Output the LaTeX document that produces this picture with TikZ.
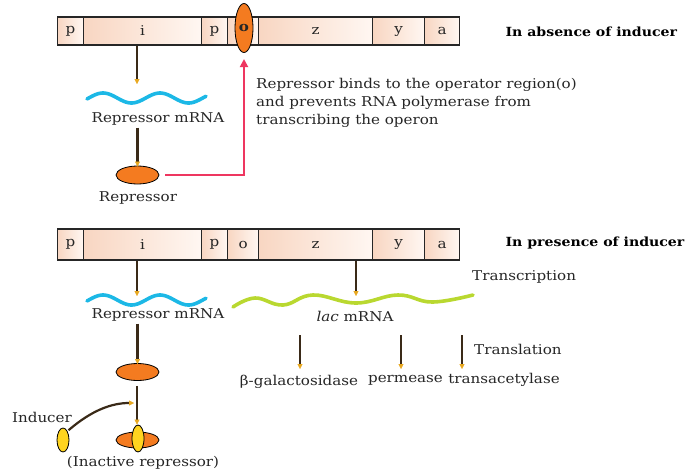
\documentclass[tikz,border=0pt]{standalone}
\usepackage{fontspec}
\setmainfont{DejaVu Serif}[FakeStretch=1.12]
\usetikzlibrary{arrows.meta,shapes.geometric}
\definecolor{cellL}{HTML}{F8D6C2}
\definecolor{cellR}{HTML}{FFF7F2}
\definecolor{orangeR}{HTML}{F47B20}
\definecolor{yellowI}{HTML}{FFD41F}
\definecolor{cyanW}{HTML}{1CB8E6}
\definecolor{greenW}{HTML}{B9D830}
\definecolor{redA}{HTML}{EE3660}
\definecolor{brownA}{HTML}{3A2A18}
\definecolor{tipY}{HTML}{E8A820}
\begin{document}
\begin{tikzpicture}[x=1pt,y=-1pt,
  every node/.style={font=\fontsize{13.5}{16}\selectfont, text=black!85},
  cell/.style={draw=black!85, line width=1.1pt, left color=cellL, right color=cellR,
    minimum height=#1, inner sep=0, anchor=west},
  garrow/.style={draw=brownA, line width=2.2pt,
    -{Triangle[length=5pt,width=5pt,fill=tipY,color=tipY,line width=0.4pt]}},
  redarrow/.style={draw=redA, line width=1.8pt, -{Triangle[length=8pt,width=8pt]}},
  protein/.style={ellipse, draw=black, line width=0.8pt, fill=orangeR, inner sep=0},
  inducerbox/.style={ellipse, draw=black, line width=0.8pt, fill=yellowI, inner sep=0},
  wavecyan/.style={draw=cyanW, line width=3.6pt, line cap=round},
  wavegreen/.style={draw=greenW, line width=3.6pt, line cap=round},
  lbl/.style={inner sep=1pt},
  title/.style={font=\fontsize{12.6}{16}\selectfont\bfseries, anchor=west, text=black}
]
\useasboundingbox (0,0) rectangle (690,471);

% ---------- top operon ----------
\node[cell=28pt, minimum width=26pt]  (tp1) at (57,31)  {p};
\node[cell=28pt, minimum width=118pt] (ti)  at (83,31)  {i};
\node[cell=28pt, minimum width=26pt]  (tp2) at (201,31) {p};
\node[cell=28pt, minimum width=31pt]  (to)  at (227,31) {};
\node[cell=28pt, minimum width=114pt] (tz)  at (258,31) {z};
\node[cell=28pt, minimum width=52pt]  (ty)  at (372,31) {y};
\node[cell=28pt, minimum width=35pt]  (ta)  at (424,31) {a};
\node[protein, minimum width=18pt, minimum height=49pt] (op) at (244,28) {\textbf{o}};
\node[title] (t1) at (502,32) {In absence of inducer};

\coordinate (rm1) at (137,84);
\draw[garrow] (ti.south -| rm1) -- (rm1);
\draw[wavecyan, domain=87:206, samples=80, smooth] plot (\x, {98 - 5*cos(6.3158*(\x-103))});
\node[lbl] (rmtxt) at (158,119) {Repressor mRNA};
\node[protein, minimum width=43pt, minimum height=18pt] (rep) at (137.5,175) {};
\draw[garrow] (rmtxt.south -| rep) ++(0,1) -- ([yshift=-1pt]rep.north);
\node[lbl] (reptxt) at (138,198) {Repressor};

\coordinate (optip) at (244,59);
\draw[redarrow, shorten <=6pt] (rep.east) -- (rep.east -| optip) -- (optip);
\node[anchor=north west, align=left, inner sep=0,
  font=\fontsize{13.5}{18}\selectfont] (expl) at (256,78)
  {Repressor binds to the operator region(o)\\and prevents RNA polymerase from\\transcribing the operon};

% ---------- bottom operon ----------
\node[cell=31pt, minimum width=26pt]  (bp1) at (57,244.5)  {p};
\node[cell=31pt, minimum width=118pt] (bi)  at (83,244.5)  {i};
\node[cell=31pt, minimum width=26pt]  (bp2) at (201,244.5) {p};
\node[cell=31pt, minimum width=31pt]  (bo)  at (227,244.5) {o};
\node[cell=31pt, minimum width=114pt] (bz)  at (258,244.5) {z};
\node[cell=31pt, minimum width=52pt]  (by)  at (372,244.5) {y};
\node[cell=31pt, minimum width=35pt]  (ba)  at (424,244.5) {a};
\node[title] (t2) at (502,243) {In presence of inducer};

\coordinate (rm2) at (137,296);
\draw[garrow] (bi.south -| rm2) -- (rm2);
\coordinate (lac) at (356,296);
\draw[garrow] (bz.south -| lac) -- (lac);

\draw[wavecyan, domain=87:206, samples=80, smooth] plot (\x, {300 - 5*cos(6.3158*(\x-103))});
\node[lbl] (rmtxt2) at (158,315) {Repressor mRNA};
\draw[wavegreen] plot[smooth, tension=0.7] coordinates
  {(233,307) (255,298) (283,305) (313,295) (356,303) (398,295) (432,302) (473,295)};
\node[lbl] (lactxt) at (355,316) {\textit{lac} mRNA};
\node[lbl, anchor=west] (transc) at (471,277) {Transcription};
\node[lbl, anchor=west] (transl) at (473,349) {Translation};

\coordinate (g1a) at (300,335); \coordinate (g1b) at (300,369);
\coordinate (g2a) at (401,335); \coordinate (g2b) at (401,369);
\coordinate (g3a) at (462,335); \coordinate (g3b) at (462,369);
\draw[garrow] (g1a) -- (g1b);
\draw[garrow] (g2a) -- (g2b);
\draw[garrow] (g3a) -- (g3b);
\node[lbl] (bgal) at (299,382) {β-galactosidase};
\node[lbl] (perm) at (405.5,380) {permease};
\node[lbl] (trans) at (504,380) {transacetylase};

\node[protein, minimum width=43pt, minimum height=17pt] (rep2) at (137.5,372) {};
\draw[garrow] (rmtxt2.south -| rep2) ++(0,1) -- ([yshift=-1pt]rep2.north);
\node[protein, minimum width=43pt, minimum height=16pt] (irep) at (137.5,440) {};
\node[inducerbox, minimum width=12pt, minimum height=27pt] (iind) at (138,438.5) {};
\coordinate (join) at (137,403);
\draw[garrow] (rep2.south -| join) ++(0,5) -- (iind.north -| join);
\node[inducerbox, minimum width=12pt, minimum height=24pt] (ind) at (63,440) {};
\node[lbl] (indtxt) at (42,417) {Inducer};
\draw[garrow] (ind.north east) ++(1,-1) .. controls (92,410) and (112,403) .. ([xshift=-3pt]join);
\node[lbl] (inact) at (143,463) {(Inactive repressor)};
\end{tikzpicture}
\end{document}
